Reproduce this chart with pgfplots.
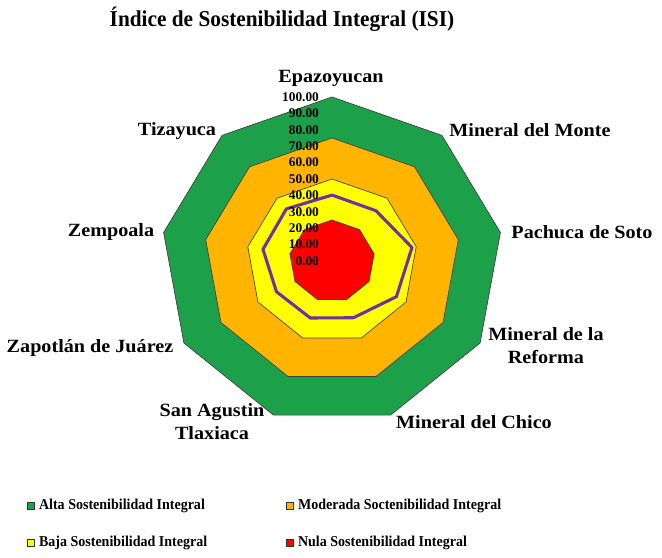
\documentclass[border=0pt]{standalone}
\usepackage{pgfplots}
\pgfplotsset{compat=1.18}
\usepackage{fontspec}
\setmainfont{Liberation Serif}
\newfontfamily\catfont{Liberation Serif}[FakeStretch=1.08]
\newfontfamily\titlefont{Liberation Serif}[FakeStretch=0.94]
\newfontfamily\legfont{Liberation Serif}[FakeStretch=0.93]
\definecolor{cgreen}{HTML}{1DA04A}
\definecolor{corange}{HTML}{FFB400}
\definecolor{cyellow}{HTML}{FFFF00}
\definecolor{cred}{HTML}{FF0000}
\definecolor{cpurple}{HTML}{7030A0}
\begin{document}
\begin{tikzpicture}
\path[use as bounding box] (0pt,0pt) rectangle (496.5pt,418.5pt);
\begin{axis}[
  at={(249pt,222.75pt)}, anchor=origin,
  x=1.2825pt, y=1.23pt,
  xmin=-100, xmax=100, ymin=-100, ymax=100,
  hide axis, clip=false,
  legend columns=2,
  legend cell align=left,
  legend image code/.code={\draw[#1,draw=black!80,line width=0.4pt] (0pt,-2.6pt) rectangle (5.2pt,2.6pt);},
  legend style={draw=none, fill=none, at={(-0.392,-0.222)}, anchor=north west,
    inner sep=0pt, outer sep=0pt, row sep=16.5pt,
    nodes={inner sep=1pt},
    font=\legfont\fontsize{11.3}{12}\selectfont\bfseries,
    /tikz/every odd column/.append style={column sep=2.5pt},
    /tikz/every even column/.append style={column sep=58pt}},
]
\addplot[data cs=polar, fill=cgreen, draw=black!75, line width=0.5pt] coordinates {
(90,100) (50,100) (10,100) (-30,100) (-70,100) (-110,100) (-150,100) (-190,100) (-230,100) (90,100)};
\addlegendentry{Alta Sostenibilidad Integral}
\addplot[data cs=polar, fill=corange, draw=black!75, line width=0.5pt] coordinates {
(90,75) (50,75) (10,75) (-30,75) (-70,75) (-110,75) (-150,75) (-190,75) (-230,75) (90,75)};
\addlegendentry{Moderada Soctenibilidad Integral}
\addplot[data cs=polar, fill=cyellow, draw=black!75, line width=0.5pt] coordinates {
(90,50) (50,50) (10,50) (-30,50) (-70,50) (-110,50) (-150,50) (-190,50) (-230,50) (90,50)};
\addlegendentry{Baja Sostenibilidad Integral}
\addplot[data cs=polar, fill=cred, draw=black!75, line width=0.5pt] coordinates {
(90,25) (50,25) (10,25) (-30,25) (-70,25) (-110,25) (-150,25) (-190,25) (-230,25) (90,25)};
\addlegendentry{Nula Sostenibilidad Integral}
\addplot[data cs=polar, draw=cpurple, line width=2.3pt, line join=round, forget plot] coordinates {
(90,40.2) (50,40) (10,47.5) (-30,43.5) (-70,36.8) (-110,37) (-150,37.5) (-190,41) (-230,41.5) (90,40.2)};
\foreach \r in {0,10,...,100} {
  \edef\tmp{\noexpand\node[anchor=east, inner sep=0pt, font=\noexpand\fontsize{10}{10}\noexpand\selectfont\noexpand\bfseries] at (axis cs:-7.5,\r) {\r.00};}
  \tmp
}
\end{axis}
\begin{scope}[x=0.75pt,y=0.75pt]
\node[font=\titlefont\fontsize{17}{19}\selectfont\bfseries] at (282,539) {Índice de Sostenibilidad Integral (ISI)};
\begin{scope}[every node/.style={font=\catfont\fontsize{14}{17.25}\selectfont\bfseries, align=center, inner sep=0pt}]
\node at (331,480) {Epazoyucan};
\node at (530,428) {Mineral del Monte};
\node at (582,326) {Pachuca de Soto};
\node at (546,212) {Mineral de la\\Reforma};
\node at (474,136) {Mineral del Chico};
\node at (212,136) {San Agustin\\Tlaxiaca};
\node at (90,210) {Zapotlán de Juárez};
\node at (111,326) {Zempoala};
\node at (177,427) {Tizayuca};
\end{scope}
\end{scope}
\end{tikzpicture}
\end{document}
